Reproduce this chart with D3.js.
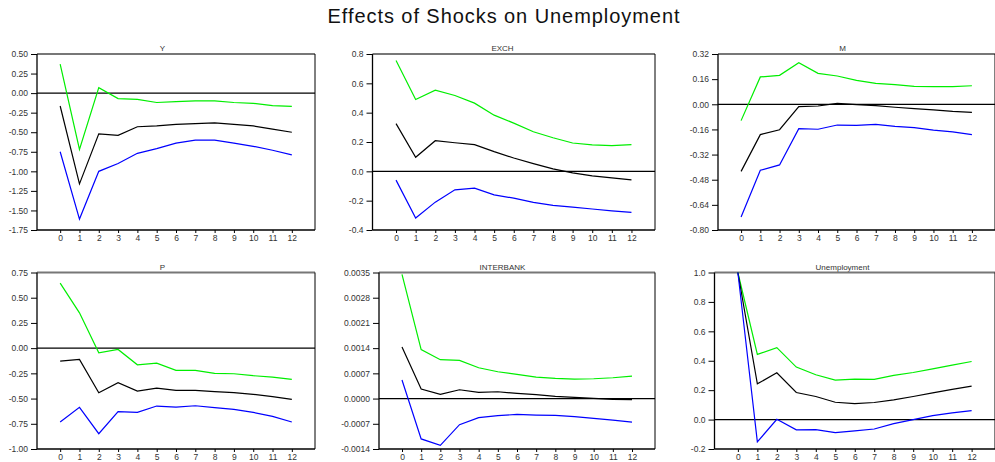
<!DOCTYPE html>
<html>
<head>
<meta charset="utf-8">
<script src="https://cdn.jsdelivr.net/npm/d3@7"></script>
<style>
  body { margin: 0; background: #fff; }
  svg { display: block; font-family: "Liberation Sans", Arial, sans-serif; }
</style>
</head>
<body>
<svg id="chart" width="995" height="462"></svg>
<script>
// horizons 0..12
var steps = d3.range(0, 13);

var panelNames = ['Y', 'EXCH', 'M', 'P', 'INTERBANK', 'Unemployment'];

// y axis ticks per panel
var yTicks = [
  [0.50, 0.25, 0.00, -0.25, -0.50, -0.75, -1.00, -1.25, -1.50, -1.75],
  [0.8, 0.6, 0.4, 0.2, 0.0, -0.2, -0.4],
  [0.32, 0.16, 0.00, -0.16, -0.32, -0.48, -0.64, -0.80],
  [0.75, 0.50, 0.25, 0.00, -0.25, -0.50, -0.75, -1.00],
  [0.0035, 0.0028, 0.0021, 0.0014, 0.0007, 0.0000, -0.0007, -0.0014],
  [1.0, 0.8, 0.6, 0.4, 0.2, 0.0, -0.2]
];
var yDecimals = [2, 1, 2, 2, 4, 1];

// upper band (green)
var upper = [
  [0.37, -0.72, 0.07, -0.07, -0.08, -0.12, -0.11, -0.10, -0.10, -0.12, -0.13, -0.16, -0.17],
  [0.755, 0.49, 0.553, 0.517, 0.465, 0.383, 0.329, 0.27, 0.229, 0.193, 0.18, 0.175, 0.182],
  [-0.104, 0.174, 0.184, 0.265, 0.197, 0.18, 0.152, 0.133, 0.125, 0.114, 0.112, 0.112, 0.118],
  [0.644, 0.35, -0.046, -0.013, -0.165, -0.148, -0.221, -0.221, -0.25, -0.254, -0.273, -0.287, -0.31],
  [0.00345, 0.00136, 0.00108, 0.00106, 0.000856, 0.000745, 0.000671, 0.000597, 0.00056, 0.000541, 0.00055, 0.000578, 0.000625],
  [1.0, 0.443, 0.489, 0.357, 0.305, 0.268, 0.275, 0.273, 0.30, 0.32, 0.345, 0.37, 0.395]
];

// point estimate (black)
var mid = [
  [-0.165, -1.16, -0.52, -0.54, -0.43, -0.42, -0.40, -0.39, -0.38, -0.40, -0.42, -0.46, -0.50],
  [0.325, 0.096, 0.209, 0.195, 0.182, 0.134, 0.091, 0.053, 0.017, -0.01, -0.031, -0.044, -0.058],
  [-0.427, -0.193, -0.162, -0.015, -0.011, 0.006, -0.002, -0.009, -0.019, -0.028, -0.036, -0.045, -0.051],
  [-0.128, -0.112, -0.442, -0.343, -0.425, -0.396, -0.419, -0.419, -0.432, -0.442, -0.458, -0.481, -0.508],
  [0.00143, 0.000264, 0.000116, 0.000245, 0.000171, 0.00019, 0.000144, 0.000107, 0.00006, 0.000033, 0.000005, -0.000023, -0.000032],
  [1.0, 0.243, 0.318, 0.184, 0.157, 0.118, 0.109, 0.116, 0.134, 0.157, 0.182, 0.205, 0.227]
];

// lower band (blue)
var lower = [
  [-0.75, -1.61, -1.00, -0.90, -0.77, -0.71, -0.64, -0.60, -0.60, -0.64, -0.68, -0.73, -0.79],
  [-0.06, -0.318, -0.21, -0.126, -0.115, -0.16, -0.183, -0.212, -0.232, -0.244, -0.257, -0.269, -0.28],
  [-0.717, -0.42, -0.386, -0.155, -0.159, -0.132, -0.134, -0.128, -0.14, -0.149, -0.164, -0.176, -0.193],
  [-0.732, -0.587, -0.848, -0.63, -0.637, -0.574, -0.584, -0.571, -0.59, -0.607, -0.637, -0.676, -0.732],
  [0.000514, -0.00112, -0.0013, -0.000725, -0.00053, -0.000476, -0.000439, -0.000457, -0.000466, -0.000503, -0.00055, -0.000596, -0.000652],
  [1.0, -0.152, 0.002, -0.07, -0.068, -0.089, -0.077, -0.064, -0.027, 0.0, 0.027, 0.045, 0.061]
];

// layout
var colX = [0, 340, 680];
var rowTop = [54, 272.5];
var rowBottom = [230, 449];
var axisLeft = [37, 372.5, 718, 37, 379, 714.5];

var svg = d3.select('#chart');

svg.append('text')
  .attr('x', 503.5).attr('y', 22.5)
  .attr('text-anchor', 'middle')
  .attr('textLength', 352)
  .attr('lengthAdjust', 'spacing')
  .style('font-size', '20px')
  .style('fill', '#111')
  .text('Effects of Shocks on Unemployment');

panelNames.forEach(function(name, i){
  var col = i % 3, row = Math.floor(i / 3);
  var left = axisLeft[i], right = colX[col] + 315,
      top = rowTop[row], bottom = rowBottom[row];

  var x = d3.scaleLinear().domain([-1.2, 13.2]).range([left, right]);
  var yt = yTicks[i];
  var y = d3.scaleLinear().domain([d3.min(yt), d3.max(yt)]).range([bottom, top]);

  var g = svg.append('g');

  // panel title
  g.append('text')
    .attr('x', colX[col] + 162.5).attr('y', top - 3)
    .attr('text-anchor', 'middle')
    .style('font-size', '8px')
    .style('fill', '#333')
    .text(name);

  // frame: grey top, black right
  g.append('line')
    .attr('x1', left).attr('x2', right).attr('y1', top).attr('y2', top)
    .attr('stroke', '#777').attr('stroke-width', 2);
  g.append('line')
    .attr('x1', right).attr('x2', right).attr('y1', top).attr('y2', bottom)
    .attr('stroke', '#000').attr('stroke-width', 1);

  var yAxis = g.append('g')
    .attr('transform', 'translate(' + left + ',0)')
    .call(d3.axisLeft(y).tickValues(yt).tickSize(6).tickPadding(3)
      .tickFormat(function(d){ return d.toFixed(yDecimals[i]); }));

  var xAxis = g.append('g')
    .attr('transform', 'translate(0,' + bottom + ')')
    .call(d3.axisBottom(x).tickValues(steps).tickSize(3).tickPadding(2)
      .tickFormat(d3.format('d')));

  [yAxis, xAxis].forEach(function(a){
    a.select('.domain').attr('stroke', '#000').attr('stroke-width', 1.3);
    a.selectAll('.tick line').attr('stroke', '#000');
    a.selectAll('.tick text').style('font-size', '8.5px').attr('fill', '#333');
  });
  xAxis.select('.domain').attr('d', 'M' + left + ',0H' + right);
  yAxis.select('.domain').attr('d', 'M0,' + bottom + 'V' + top);

  // zero line
  g.append('line')
    .attr('x1', left).attr('x2', right)
    .attr('y1', y(0)).attr('y2', y(0))
    .attr('stroke', '#000').attr('stroke-width', 1.2);

  var line = d3.line()
    .x(function(d, k){ return x(steps[k]); })
    .y(function(d){ return y(d); });

  [[upper[i], '#00ee00'], [mid[i], '#000'], [lower[i], '#0000ff']].forEach(function(s){
    g.append('path')
      .datum(s[0])
      .attr('d', line)
      .attr('fill', 'none')
      .attr('stroke', s[1])
      .attr('stroke-width', 1.2);
  });
});
</script>
</body>
</html>
